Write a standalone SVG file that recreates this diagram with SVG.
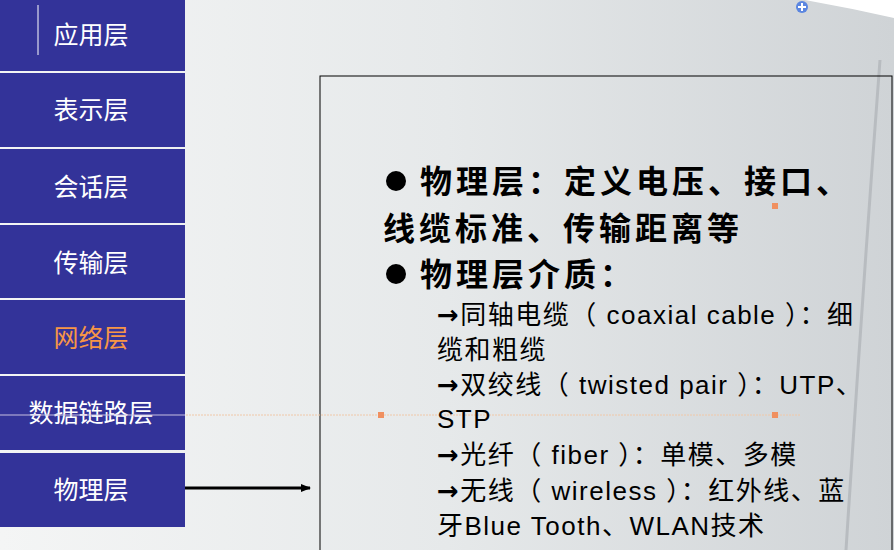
<svg xmlns="http://www.w3.org/2000/svg" width="894" height="550" viewBox="0 0 894 550">
<defs>
<linearGradient id="bg" x1="0" y1="0" x2="1" y2="0">
<stop offset="0" stop-color="#f4f5f5"/><stop offset="0.5" stop-color="#e6e9ea"/><stop offset="1" stop-color="#cfd3d6"/>
</linearGradient>
<marker id="ah" markerWidth="10" markerHeight="8" refX="9" refY="4" orient="auto" markerUnits="userSpaceOnUse"><path d="M0,0 L10,4 L0,8 z" fill="#000"/></marker>
<style>
.layer rect{fill:#333399}
.layer text{fill:#fff;font-family:"Noto Sans CJK SC",sans-serif;font-size:25px;text-anchor:middle}
.big{font-family:"Liberation Sans","Noto Sans CJK SC",sans-serif;font-size:32px;font-weight:bold;fill:#000;letter-spacing:4px}
.sm{font-family:"Liberation Sans","Noto Sans CJK SC",sans-serif;font-size:26px;fill:#000;white-space:pre;letter-spacing:1.5px}
.ar{font-family:"DejaVu Sans",sans-serif;font-weight:bold}
</style>
</defs>
<rect width="894" height="550" fill="url(#bg)"/>
<path d="M805,0 L894,0 L894,18 Q850,8 805,0 z" fill="#fff"/>
<path d="M880,60 Q862,300 846,550" stroke="#b8bcc0" stroke-width="3" fill="none"/>
<circle cx="802" cy="7" r="6" fill="#5b86e0"/><path d="M798,7 h8 M802,3 v8" stroke="#fff" stroke-width="2"/>
<rect x="320" y="76" width="572" height="480" fill="none" stroke="#000" stroke-width="1"/>
<line x1="0" y1="415" x2="800" y2="415" stroke="#f0c8a8" stroke-width="1" stroke-dasharray="2,1"/>
<rect x="378" y="412" width="6" height="6" fill="#f09060"/>
<rect x="772" y="412" width="6" height="6" fill="#f09060"/>
<rect x="772" y="203" width="6" height="6" fill="#f09060"/>
<g id="l1" class="layer"><rect x="0" y="0" width="185" height="71"/><line x1="38" y1="5" x2="38" y2="55" stroke="#fff"/><text x="91" y="44">应用层</text></g>
<g id="l2" class="layer"><rect x="0" y="73" width="185" height="74"/><text x="91" y="119">表示层</text></g>
<g id="l3" class="layer"><rect x="0" y="149" width="185" height="74"/><text x="91" y="196">会话层</text></g>
<g id="l4" class="layer"><rect x="0" y="225" width="185" height="73"/><text x="91" y="272">传输层</text></g>
<g id="l5" class="layer"><rect x="0" y="300" width="185" height="74"/><text x="91" y="347" style="fill:#f79646">网络层</text></g>
<g id="l6" class="layer"><rect x="0" y="376" width="185" height="74"/><text x="91" y="422">数据链路层</text></g>
<g id="l7" class="layer"><rect x="0" y="453" width="185" height="74"/><text x="91" y="499">物理层</text></g>
<line x1="0" y1="415" x2="185" y2="415" stroke="#c8c0e0" stroke-width="1"/>
<g id="connectors"><line x1="185" y1="488" x2="310" y2="488" stroke="#000" stroke-width="3" marker-end="url(#ah)"/></g>
<g id="text">
<circle cx="396" cy="181" r="10" fill="#000"/>
<text class="big" x="420" y="193">物理层：定义电压、接口、</text>
<text class="big" x="383" y="240">线缆标准、传输距离等</text>
<circle cx="396" cy="274" r="10" fill="#000"/>
<text class="big" x="420" y="286">物理层介质：</text>
<text class="sm" x="437" y="324"><tspan class="ar">→</tspan>同轴电缆（ coaxial cable ）：细</text>
<text class="sm" x="437" y="359">缆和粗缆</text>
<text class="sm" x="437" y="394"><tspan class="ar">→</tspan>双绞线（ twisted pair ）：UTP、</text>
<text class="sm" x="437" y="428">STP</text>
<text class="sm" x="437" y="464"><tspan class="ar">→</tspan>光纤（ fiber ）：单模、多模</text>
<text class="sm" x="437" y="500"><tspan class="ar">→</tspan>无线（ wireless ）：红外线、蓝</text>
<text class="sm" x="437" y="535">牙Blue Tooth、WLAN技术</text>
</g>
</svg>
